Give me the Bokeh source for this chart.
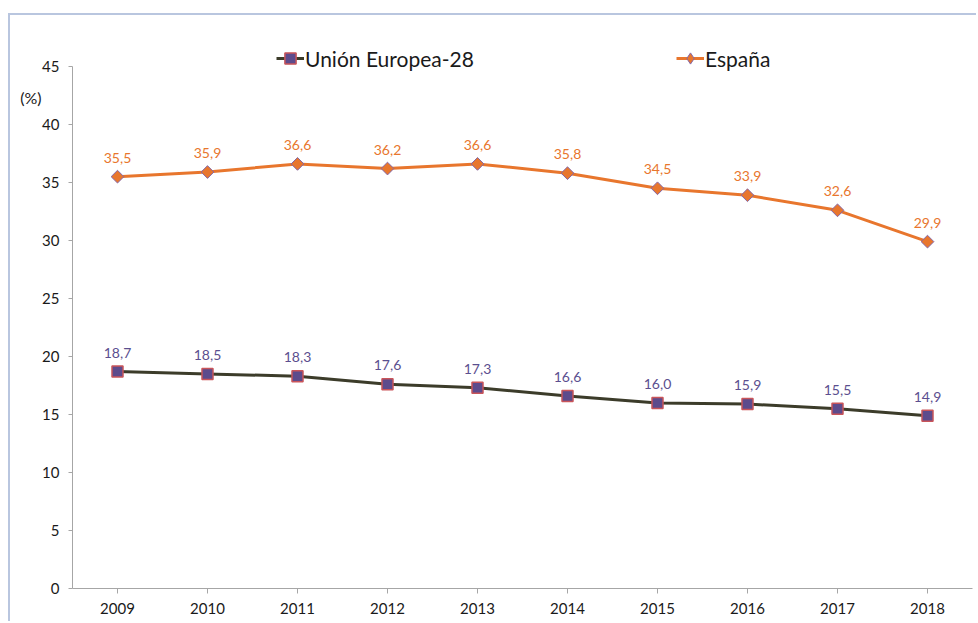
import math
from bokeh.plotting import figure
from bokeh.models import (ColumnDataSource, Range1d, FactorRange, FixedTicker,
                          Legend, LegendItem, LabelSet, LinearAxis)
from bokeh.embed import file_html
from bokeh.resources import INLINE
from bokeh.core.properties import value

years = ["2009", "2010", "2011", "2012", "2013", "2014", "2015", "2016", "2017", "2018"]
ue28 = [18.7, 18.5, 18.3, 17.6, 17.3, 16.6, 16.0, 15.9, 15.5, 14.9]
espana = [35.5, 35.9, 36.6, 36.2, 36.6, 35.8, 34.5, 33.9, 32.6, 29.9]
y_ticks = [0, 5, 10, 15, 20, 25, 30, 35, 40, 45]
y_unit_label = "(%)"


def fmt(v):
    return f"{v:.1f}".replace(".", ",")


src = ColumnDataSource(dict(
    year=years, ue=ue28, es=espana,
    ue_lbl=[fmt(v) for v in ue28], es_lbl=[fmt(v) for v in espana],
))

FONT = "Lato"
TXT = "#1a1a1a"
ORANGE = "#e8762d"
PURPLE_EDGE = "#8467a8"

p = figure(width=968, height=608,
           x_range=FactorRange(factors=years, range_padding=0),
           y_range=Range1d(0, 47.41),
           output_backend="svg", toolbar_location=None,
           min_border_left=62, min_border_right=6,
           min_border_top=23, min_border_bottom=35)
p.styles = {"border-top": "2px solid #b9c6df", "border-left": "2px solid #b9c6df",
            "margin-top": "13px", "margin-left": "8px"}

p.outline_line_color = None
p.xgrid.grid_line_color = None
p.ygrid.grid_line_color = None

# axes
p.yaxis.ticker = FixedTicker(ticks=y_ticks)
p.yaxis.bounds = (y_ticks[0], y_ticks[-1])
p.yaxis.minor_tick_line_color = None
p.yaxis.major_tick_in = 0
p.yaxis.major_tick_out = 4
p.yaxis.major_label_standoff = 9
for ax in (p.xaxis, p.yaxis):
    ax.axis_line_color = "#a6a6a6"
    ax.major_tick_line_color = "#a6a6a6"
    ax.major_label_text_font = FONT
    ax.major_label_text_font_size = "15px"
    ax.major_label_text_color = TXT
p.xaxis.major_tick_in = 0
p.xaxis.major_tick_out = 5
p.xaxis.major_label_standoff = 9

# unit label "(%)" as a tick-less outer axis on the left
unit_axis = LinearAxis(ticker=FixedTicker(ticks=[42.3]),
                       major_label_overrides={42.3: y_unit_label},
                       axis_line_color=None, major_tick_line_color=None,
                       minor_tick_line_color=None, major_label_standoff=-8,
                       major_label_text_font=FONT, major_label_text_font_size="16px",
                       major_label_text_color=TXT)
p.add_layout(unit_axis, "left")

# series
l_es = p.line(x="year", y="es", source=src, line_color=ORANGE, line_width=3)
s_es = p.scatter(x="year", y="es", source=src, marker="square", size=9,
                 angle=math.pi / 4,
                 fill_color=ORANGE, line_color=PURPLE_EDGE, line_width=1)
l_ue = p.line(x="year", y="ue", source=src, line_color="#3c3c2a", line_width=3)
s_ue = p.scatter(x="year", y="ue", source=src, marker="square", size=11,
                 fill_color="#5d4b8c", line_color="#c9555a", line_width=1.5)
# legend-only diamond symbol (legend icons are never rotated)
s_es_key = p.scatter(x="year", y="es", source=src, marker="diamond", size=12,
                     fill_color=ORANGE, line_color=PURPLE_EDGE, line_width=1,
                     visible=False)

p.add_layout(LabelSet(x="year", y="es", text="es_lbl", source=src, y_offset=19,
                      text_align="center", text_baseline="middle",
                      text_font=value(FONT), text_font_size=value("14px"),
                      text_color=ORANGE))
p.add_layout(LabelSet(x="year", y="ue", text="ue_lbl", source=src, y_offset=19,
                      text_align="center", text_baseline="middle",
                      text_font=value(FONT), text_font_size=value("14px"),
                      text_color="#5b4f8f"))


def mk_legend(label, renderers, loc):
    return Legend(items=[LegendItem(label=label, renderers=renderers)],
                  location=loc, orientation="horizontal",
                  label_text_font=FONT, label_text_font_size="21px",
                  label_text_color=TXT, glyph_width=28, glyph_height=30,
                  label_standoff=1, padding=0, margin=0, border_line_alpha=0,
                  background_fill_alpha=0, inactive_fill_alpha=0)


p.add_layout(mk_legend("Unión Europea-28", [l_ue, s_ue], (204, 515)))
p.add_layout(mk_legend("España", [l_es, s_es_key], (604, 515)))

open("out.html", "w").write(file_html(p, INLINE))
